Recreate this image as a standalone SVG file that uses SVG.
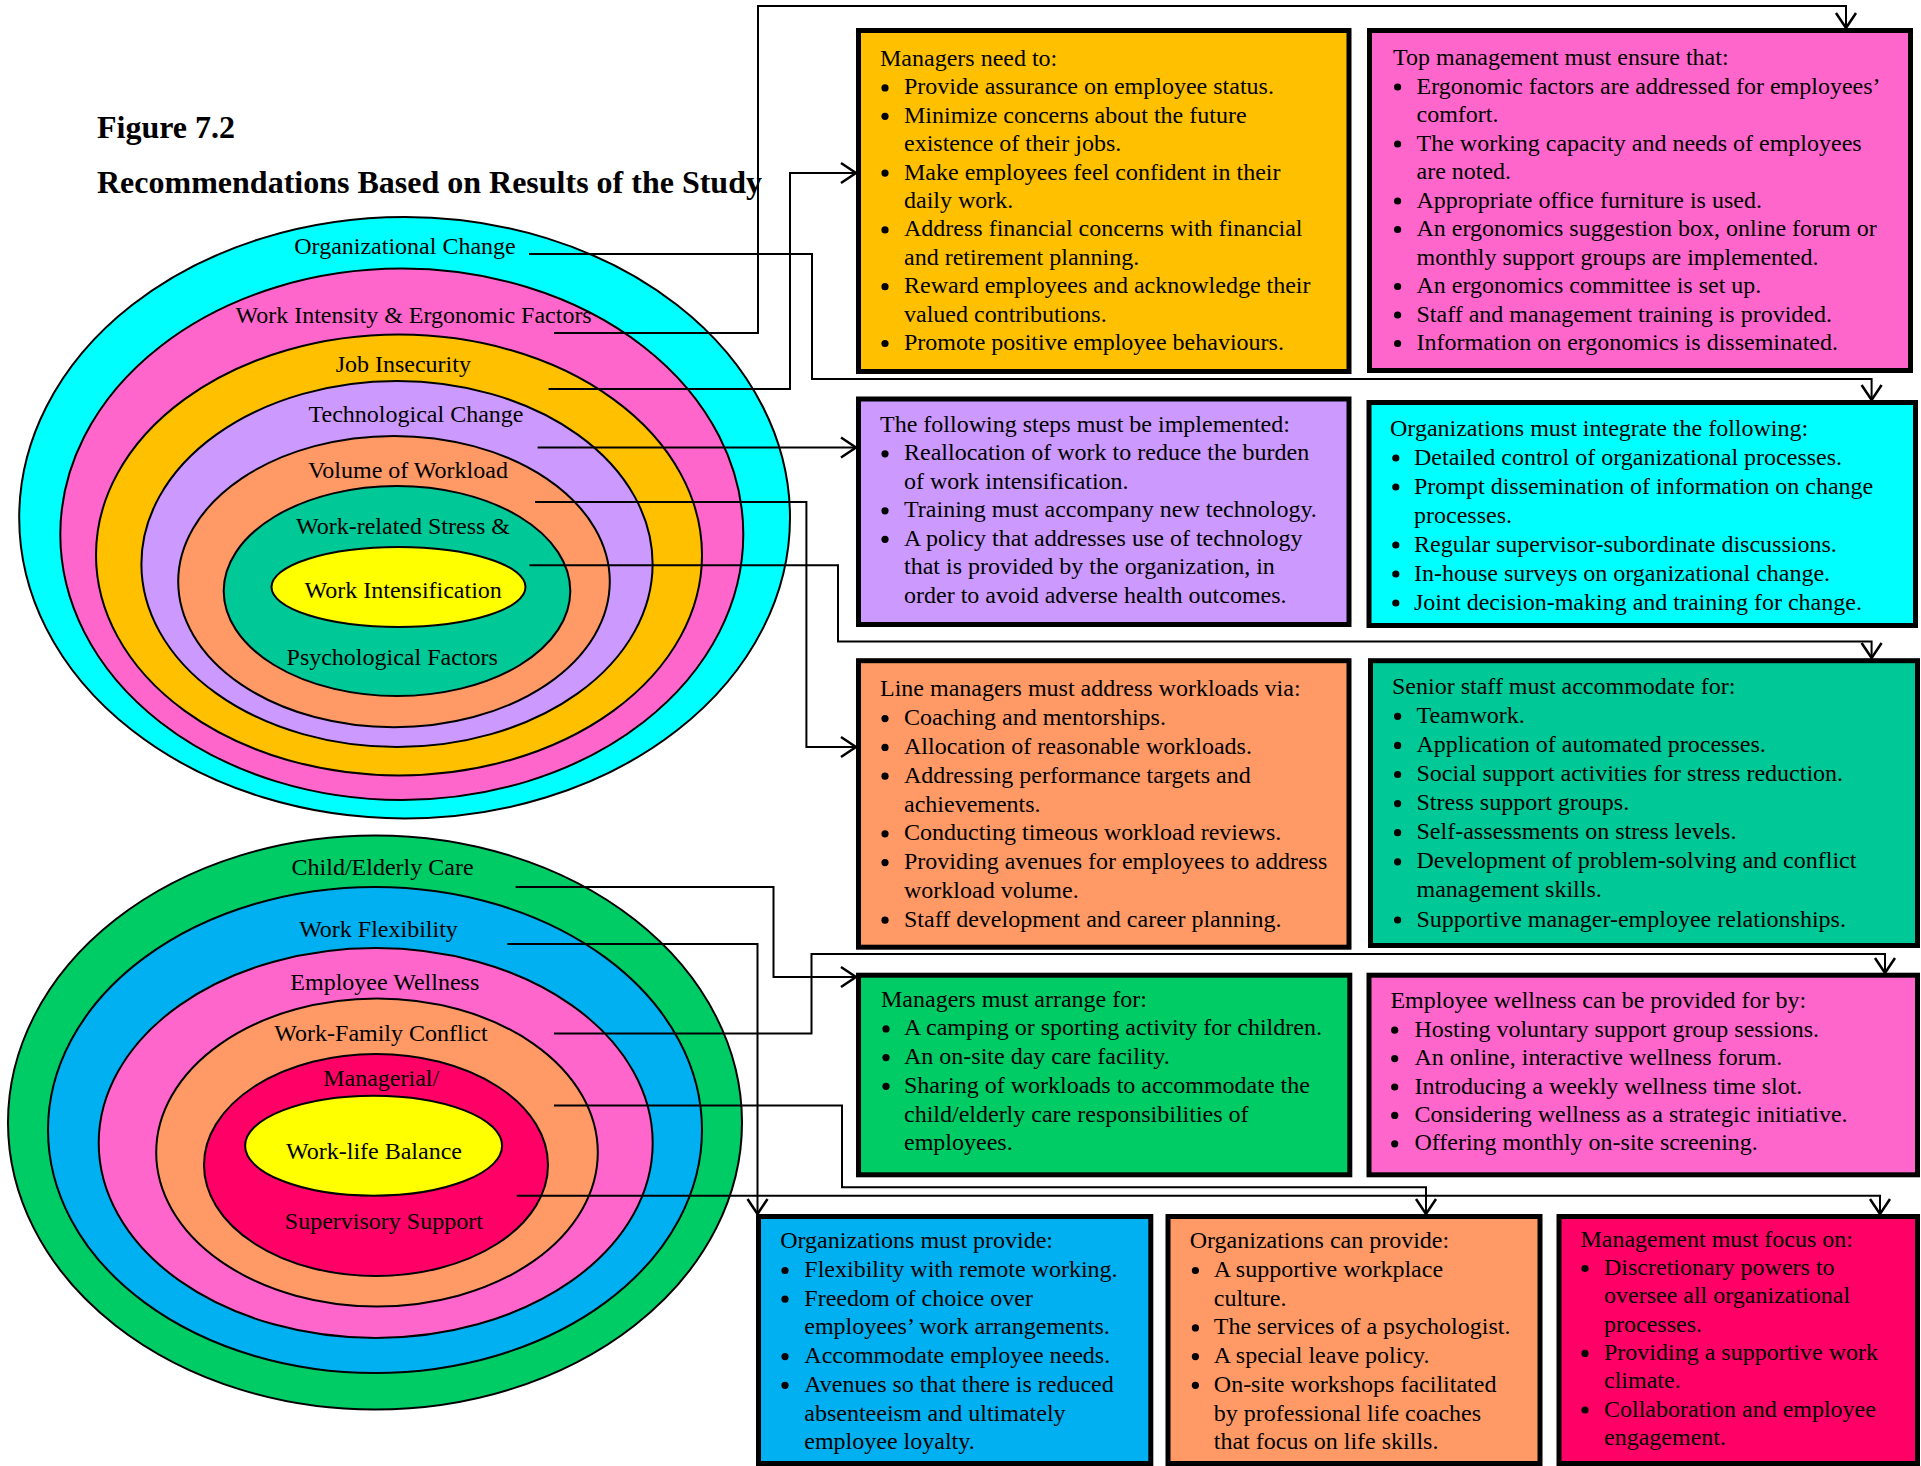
<svg xmlns="http://www.w3.org/2000/svg" width="1921" height="1466" viewBox="0 0 1921 1466">
  <style>
    .t { font-family: "Liberation Serif", "Times New Roman", serif; font-size: 24px; fill: #000; }
    .title { font-family: "Liberation Serif", "Times New Roman", serif; font-size: 32px; font-weight: bold; fill: #000; }
    .ring { stroke: #000; stroke-width: 2; }
    .box { stroke: #000; stroke-width: 5; }
    .conn { fill: none; stroke: #000; stroke-width: 2; marker-end: url(#arr); }
    .dot { fill: #000; }
  </style>
  <defs>
    <marker id="arr" markerUnits="userSpaceOnUse" viewBox="-18 -12 20 24" refX="0" refY="0" markerWidth="20" markerHeight="24" orient="auto" overflow="visible">
      <path d="M-15,-10 L0,0 L-15,10" fill="none" stroke="#000" stroke-width="2.5"/>
    </marker>
  </defs>

  <rect width="1921" height="1466" fill="#fff"/>

  <!-- Heading -->
  <g id="heading">
    <text class="title" x="97" y="138">Figure 7.2</text>
    <text class="title" x="97" y="193">Recommendations Based on Results of the Study</text>
  </g>

  <!-- Work intensification rings -->
  <g id="rings-work-intensification">
    <ellipse class="ring" cx="404.6" cy="517.7" rx="385.4" ry="300.7" fill="#00FFFF"/>
    <ellipse class="ring" cx="401.8" cy="534.3" rx="341.5" ry="265.7" fill="#FF66CC"/>
    <ellipse class="ring" cx="399" cy="555" rx="303" ry="220.4" fill="#FFC000"/>
    <ellipse class="ring" cx="397" cy="564" rx="255.6" ry="183" fill="#CC99FF"/>
    <ellipse class="ring" cx="394" cy="581.6" rx="215.8" ry="145.7" fill="#FF9966"/>
    <ellipse class="ring" cx="397" cy="591" rx="173.3" ry="105" fill="#00C896"/>
    <ellipse class="ring" cx="398.5" cy="587" rx="127" ry="40" fill="#FFFF00"/>
    <g class="t" text-anchor="middle">
      <text x="405" y="254">Organizational Change</text>
      <text x="413.6" y="323">Work Intensity &amp; Ergonomic Factors</text>
      <text x="403.3" y="371.7">Job Insecurity</text>
      <text x="416" y="421.6">Technological Change</text>
      <text x="408" y="477.6">Volume of Workload</text>
      <text x="403" y="533.9">Work-related Stress &amp;</text>
      <text x="403.2" y="598">Work Intensification</text>
      <text x="392.2" y="664.5">Psychological Factors</text>
    </g>
  </g>

  <!-- Work-life balance rings -->
  <g id="rings-work-life-balance">
    <ellipse class="ring" cx="375" cy="1122.5" rx="367" ry="287" fill="#00CC66"/>
    <ellipse class="ring" cx="375" cy="1130" rx="327" ry="243" fill="#00B0F0"/>
    <ellipse class="ring" cx="375.7" cy="1143" rx="277" ry="195" fill="#FF66CC"/>
    <ellipse class="ring" cx="377" cy="1152.5" rx="220.8" ry="154" fill="#FF9966"/>
    <ellipse class="ring" cx="376" cy="1165" rx="172" ry="111" fill="#FF0066"/>
    <ellipse class="ring" cx="373.6" cy="1145.7" rx="128.5" ry="50" fill="#FFFF00"/>
    <g class="t" text-anchor="middle">
      <text x="382.6" y="875.4">Child/Elderly Care</text>
      <text x="378.5" y="937">Work Flexibility</text>
      <text x="384.8" y="989.6">Employee Wellness</text>
      <text x="381" y="1041.4">Work-Family Conflict</text>
      <text x="381.2" y="1086">Managerial/</text>
      <text x="374" y="1159.3">Work-life Balance</text>
      <text x="383.8" y="1229">Supervisory Support</text>
    </g>
  </g>

  <!-- Recommendation boxes -->
  <g id="box-job-insecurity">
    <rect class="box" x="858.5" y="30.5" width="490.5" height="341" fill="#FFC000"/>
    <text class="t">
      <tspan x="880" y="66">Managers need to:</tspan>
      <tspan x="904" y="94.4">Provide assurance on employee status.</tspan>
      <tspan x="904" y="122.8">Minimize concerns about the future</tspan>
      <tspan x="904" y="151.2">existence of their jobs.</tspan>
      <tspan x="904" y="179.6">Make employees feel confident in their</tspan>
      <tspan x="904" y="208">daily work.</tspan>
      <tspan x="904" y="236.4">Address financial concerns with financial</tspan>
      <tspan x="904" y="264.8">and retirement planning.</tspan>
      <tspan x="904" y="293.2">Reward employees and acknowledge their</tspan>
      <tspan x="904" y="321.6">valued contributions.</tspan>
      <tspan x="904" y="350">Promote positive employee behaviours.</tspan>
    </text>
    <g class="dot">
      <circle cx="885" cy="87.9" r="3.6"/><circle cx="885" cy="116.3" r="3.6"/><circle cx="885" cy="173.1" r="3.6"/>
      <circle cx="885" cy="229.9" r="3.6"/><circle cx="885" cy="286.7" r="3.6"/><circle cx="885" cy="343.5" r="3.6"/>
    </g>
  </g>

  <g id="box-ergonomics">
    <rect class="box" x="1369.5" y="30.5" width="541" height="340" fill="#FF66CC"/>
    <text class="t">
      <tspan x="1393" y="65">Top management must ensure that:</tspan>
      <tspan x="1416.5" y="93.5">Ergonomic factors are addressed for employees’</tspan>
      <tspan x="1416.5" y="122">comfort.</tspan>
      <tspan x="1416.5" y="150.5">The working capacity and needs of employees</tspan>
      <tspan x="1416.5" y="179">are noted.</tspan>
      <tspan x="1416.5" y="207.5">Appropriate office furniture is used.</tspan>
      <tspan x="1416.5" y="236">An ergonomics suggestion box, online forum or</tspan>
      <tspan x="1416.5" y="264.5">monthly support groups are implemented.</tspan>
      <tspan x="1416.5" y="293">An ergonomics committee is set up.</tspan>
      <tspan x="1416.5" y="321.5">Staff and management training is provided.</tspan>
      <tspan x="1416.5" y="350">Information on ergonomics is disseminated.</tspan>
    </text>
    <g class="dot">
      <circle cx="1397.6" cy="87" r="3.6"/><circle cx="1397.6" cy="144" r="3.6"/><circle cx="1397.6" cy="201" r="3.6"/>
      <circle cx="1397.6" cy="229.5" r="3.6"/><circle cx="1397.6" cy="286.5" r="3.6"/><circle cx="1397.6" cy="315" r="3.6"/>
      <circle cx="1397.6" cy="343.5" r="3.6"/>
    </g>
  </g>

  <g id="box-technology">
    <rect class="box" x="858.5" y="399" width="490.5" height="225.5" fill="#CC99FF"/>
    <text class="t">
      <tspan x="880" y="431.8">The following steps must be implemented:</tspan>
      <tspan x="904" y="460.3">Reallocation of work to reduce the burden</tspan>
      <tspan x="904" y="488.8">of work intensification.</tspan>
      <tspan x="904" y="517.3">Training must accompany new technology.</tspan>
      <tspan x="904" y="545.8">A policy that addresses use of technology</tspan>
      <tspan x="904" y="574.3">that is provided by the organization, in</tspan>
      <tspan x="904" y="602.8">order to avoid adverse health outcomes.</tspan>
    </text>
    <g class="dot">
      <circle cx="885" cy="453.8" r="3.6"/><circle cx="885" cy="510.8" r="3.6"/><circle cx="885" cy="539.3" r="3.6"/>
    </g>
  </g>

  <g id="box-organizational-change">
    <rect class="box" x="1369" y="402.5" width="546.5" height="223" fill="#00FFFF"/>
    <text class="t">
      <tspan x="1390" y="435.5">Organizations must integrate the following:</tspan>
      <tspan x="1414" y="464.5">Detailed control of organizational processes.</tspan>
      <tspan x="1414" y="493.5">Prompt dissemination of information on change</tspan>
      <tspan x="1414" y="522.5">processes.</tspan>
      <tspan x="1414" y="551.5">Regular supervisor-subordinate discussions.</tspan>
      <tspan x="1414" y="580.5">In-house surveys on organizational change.</tspan>
      <tspan x="1414" y="609.5">Joint decision-making and training for change.</tspan>
    </text>
    <g class="dot">
      <circle cx="1395.8" cy="458" r="3.6"/><circle cx="1395.8" cy="487" r="3.6"/><circle cx="1395.8" cy="545" r="3.6"/>
      <circle cx="1395.8" cy="574" r="3.6"/><circle cx="1395.8" cy="603" r="3.6"/>
    </g>
  </g>

  <g id="box-workload">
    <rect class="box" x="858.5" y="660.7" width="490.5" height="286.5" fill="#FF9966"/>
    <text class="t">
      <tspan x="880" y="696.3">Line managers must address workloads via:</tspan>
      <tspan x="904" y="725.1">Coaching and mentorships.</tspan>
      <tspan x="904" y="753.9">Allocation of reasonable workloads.</tspan>
      <tspan x="904" y="782.7">Addressing performance targets and</tspan>
      <tspan x="904" y="811.5">achievements.</tspan>
      <tspan x="904" y="840.3">Conducting timeous workload reviews.</tspan>
      <tspan x="904" y="869.1">Providing avenues for employees to address</tspan>
      <tspan x="904" y="897.9">workload volume.</tspan>
      <tspan x="904" y="926.7">Staff development and career planning.</tspan>
    </text>
    <g class="dot">
      <circle cx="885" cy="718.6" r="3.6"/><circle cx="885" cy="747.4" r="3.6"/><circle cx="885" cy="776.2" r="3.6"/>
      <circle cx="885" cy="833.8" r="3.6"/><circle cx="885" cy="862.6" r="3.6"/><circle cx="885" cy="920.2" r="3.6"/>
    </g>
  </g>

  <g id="box-stress">
    <rect class="box" x="1370.5" y="660.7" width="547" height="284.8" fill="#00C896"/>
    <text class="t">
      <tspan x="1392" y="693.7">Senior staff must accommodate for:</tspan>
      <tspan x="1416.5" y="722.8">Teamwork.</tspan>
      <tspan x="1416.5" y="751.9">Application of automated processes.</tspan>
      <tspan x="1416.5" y="781">Social support activities for stress reduction.</tspan>
      <tspan x="1416.5" y="810.1">Stress support groups.</tspan>
      <tspan x="1416.5" y="839.2">Self-assessments on stress levels.</tspan>
      <tspan x="1416.5" y="868.3">Development of problem-solving and conflict</tspan>
      <tspan x="1416.5" y="897.4">management skills.</tspan>
      <tspan x="1416.5" y="926.5">Supportive manager-employee relationships.</tspan>
    </text>
    <g class="dot">
      <circle cx="1397.6" cy="716.3" r="3.6"/><circle cx="1397.6" cy="745.4" r="3.6"/><circle cx="1397.6" cy="774.5" r="3.6"/>
      <circle cx="1397.6" cy="803.6" r="3.6"/><circle cx="1397.6" cy="832.7" r="3.6"/><circle cx="1397.6" cy="861.8" r="3.6"/>
      <circle cx="1397.6" cy="920" r="3.6"/>
    </g>
  </g>

  <g id="box-child-care">
    <rect class="box" x="858.5" y="975.2" width="491.3" height="199.6" fill="#00CC66"/>
    <text class="t">
      <tspan x="881" y="1006.7">Managers must arrange for:</tspan>
      <tspan x="904" y="1035.4">A camping or sporting activity for children.</tspan>
      <tspan x="904" y="1064.1">An on-site day care facility.</tspan>
      <tspan x="904" y="1092.8">Sharing of workloads to accommodate the</tspan>
      <tspan x="904" y="1121.5">child/elderly care responsibilities of</tspan>
      <tspan x="904" y="1150.2">employees.</tspan>
    </text>
    <g class="dot">
      <circle cx="886" cy="1028.9" r="3.6"/><circle cx="886" cy="1057.6" r="3.6"/><circle cx="886" cy="1086.3" r="3.6"/>
    </g>
  </g>

  <g id="box-wellness">
    <rect class="box" x="1369" y="975.2" width="548.5" height="199.6" fill="#FF66CC"/>
    <text class="t">
      <tspan x="1390.4" y="1008.3">Employee wellness can be provided for by:</tspan>
      <tspan x="1414.4" y="1036.7">Hosting voluntary support group sessions.</tspan>
      <tspan x="1414.4" y="1065.1">An online, interactive wellness forum.</tspan>
      <tspan x="1414.4" y="1093.5">Introducing a weekly wellness time slot.</tspan>
      <tspan x="1414.4" y="1121.9">Considering wellness as a strategic initiative.</tspan>
      <tspan x="1414.4" y="1150.3">Offering monthly on-site screening.</tspan>
    </text>
    <g class="dot">
      <circle cx="1394.7" cy="1030.2" r="3.6"/><circle cx="1394.7" cy="1058.6" r="3.6"/><circle cx="1394.7" cy="1087" r="3.6"/>
      <circle cx="1394.7" cy="1115.4" r="3.6"/><circle cx="1394.7" cy="1143.8" r="3.6"/>
    </g>
  </g>

  <g id="box-flexibility">
    <rect class="box" x="758.5" y="1216.5" width="392.3" height="247" fill="#00B0F0"/>
    <text class="t">
      <tspan x="780.2" y="1248.3">Organizations must provide:</tspan>
      <tspan x="804.3" y="1277">Flexibility with remote working.</tspan>
      <tspan x="804.3" y="1305.7">Freedom of choice over</tspan>
      <tspan x="804.3" y="1334.4">employees’ work arrangements.</tspan>
      <tspan x="804.3" y="1363.1">Accommodate employee needs.</tspan>
      <tspan x="804.3" y="1391.8">Avenues so that there is reduced</tspan>
      <tspan x="804.3" y="1420.5">absenteeism and ultimately</tspan>
      <tspan x="804.3" y="1449.2">employee loyalty.</tspan>
    </text>
    <g class="dot">
      <circle cx="785" cy="1270.5" r="3.6"/><circle cx="785" cy="1299.2" r="3.6"/><circle cx="785" cy="1356.6" r="3.6"/>
      <circle cx="785" cy="1385.3" r="3.6"/>
    </g>
  </g>

  <g id="box-work-family">
    <rect class="box" x="1168" y="1216.5" width="372" height="247" fill="#FF9966"/>
    <text class="t">
      <tspan x="1189.7" y="1248.3">Organizations can provide:</tspan>
      <tspan x="1213.8" y="1277">A supportive workplace</tspan>
      <tspan x="1213.8" y="1305.7">culture.</tspan>
      <tspan x="1213.8" y="1334.4">The services of a psychologist.</tspan>
      <tspan x="1213.8" y="1363.1">A special leave policy.</tspan>
      <tspan x="1213.8" y="1391.8">On-site workshops facilitated</tspan>
      <tspan x="1213.8" y="1420.5">by professional life coaches</tspan>
      <tspan x="1213.8" y="1449.2">that focus on life skills.</tspan>
    </text>
    <g class="dot">
      <circle cx="1195.4" cy="1270.5" r="3.6"/><circle cx="1195.4" cy="1327.9" r="3.6"/><circle cx="1195.4" cy="1356.6" r="3.6"/>
      <circle cx="1195.4" cy="1385.3" r="3.6"/>
    </g>
  </g>

  <g id="box-supervisory">
    <rect class="box" x="1559" y="1216.5" width="358.5" height="247" fill="#FF0066"/>
    <text class="t">
      <tspan x="1580.4" y="1246.7">Management must focus on:</tspan>
      <tspan x="1604" y="1275">Discretionary powers to</tspan>
      <tspan x="1604" y="1303.3">oversee all organizational</tspan>
      <tspan x="1604" y="1331.6">processes.</tspan>
      <tspan x="1604" y="1359.9">Providing a supportive work</tspan>
      <tspan x="1604" y="1388.2">climate.</tspan>
      <tspan x="1604" y="1416.5">Collaboration and employee</tspan>
      <tspan x="1604" y="1444.8">engagement.</tspan>
    </text>
    <g class="dot">
      <circle cx="1585" cy="1268.5" r="3.6"/><circle cx="1585" cy="1353.4" r="3.6"/><circle cx="1585" cy="1410" r="3.6"/>
    </g>
  </g>

  <!-- Connectors from ring labels to boxes -->
  <g id="connectors">
    <polyline class="conn" points="529,254 812,254 812,379 1871.6,379 1871.6,400"/>
    <polyline class="conn" points="554,333 758,333 758,6 1846,6 1846,28"/>
    <polyline class="conn" points="548.5,389 790,389 790,173 856,173"/>
    <polyline class="conn" points="537.6,447.5 856,447.5"/>
    <polyline class="conn" points="535,502 806.4,502 806.4,747 856,747"/>
    <polyline class="conn" points="529.4,565.3 838,565.3 838,641.6 1871.6,641.6 1871.6,658"/>
    <polyline class="conn" points="515.6,887 773.5,887 773.5,977 856,977"/>
    <polyline class="conn" points="507.4,944 757.5,944 757.5,1214"/>
    <polyline class="conn" points="554,1033.6 811.5,1033.6 811.5,954 1885,954 1885,973"/>
    <polyline class="conn" points="554,1105.5 842,1105.5 842,1187.3 1426,1187.3 1426,1214"/>
    <polyline class="conn" points="516.7,1195.7 1880,1195.7 1880,1214"/>
  </g>
</svg>
